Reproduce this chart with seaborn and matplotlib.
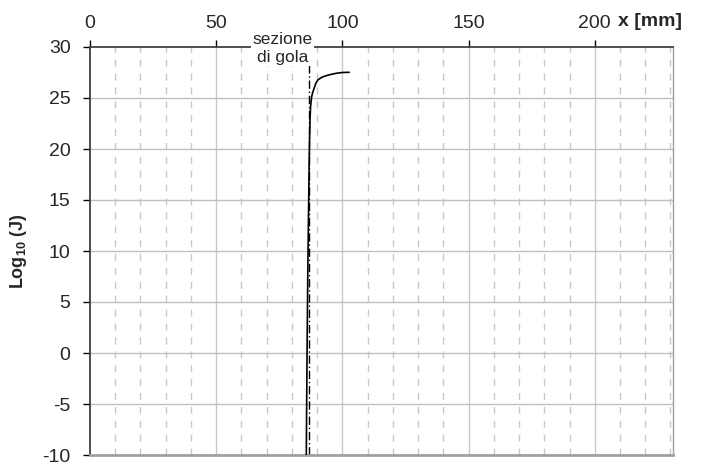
import matplotlib
matplotlib.use("Agg")
import matplotlib.pyplot as plt
import seaborn as sns
import pandas as pd

sns.set_style("white")
plt.rcParams['font.family'] = ['Liberation Sans', 'DejaVu Sans']
plt.rcParams['axes.unicode_minus'] = False
plt.rcParams['mathtext.fontset'] = 'custom'
plt.rcParams['mathtext.rm'] = 'Liberation Sans:bold'
plt.rcParams['mathtext.bf'] = 'Liberation Sans:bold'

# data
x_mm = [85.7, 86.0, 86.3, 86.5, 86.8, 87.0, 87.2, 87.4, 87.8, 88.3, 88.8, 89.5, 90.4, 92.0, 94.4, 97.5, 100.0, 102.7]
log_j = [-10.0, 0.0, 8.0, 12.0, 18.0, 21.0, 23.0, 24.15, 25.1, 25.6, 25.95, 26.45, 26.8, 27.05, 27.25, 27.42, 27.5, 27.52]
throat_x = 86.8
x_ticks = [0, 50, 100, 150, 200]
y_ticks = [-10, -5, 0, 5, 10, 15, 20, 25, 30]

df = pd.DataFrame({"x": x_mm, "y": log_j})

fig = plt.figure(figsize=(7.03, 4.65), dpi=100)
ax = fig.add_axes([90/703, 10/465, (673-90)/703, (455-47)/465])

ax.set_xlim(0, 231)
ax.set_ylim(-10, 30)

ax.set_xticks(x_ticks)
ax.set_yticks(y_ticks)
ax.grid(False)
for v in range(10, 231, 10):
    if v % 50 == 0:
        ax.axvline(v, color='#c8c8c8', lw=1.0, zorder=0)
    else:
        ax.axvline(v, color='#c8c8c8', lw=1.0, ls=(0, (5, 5)), zorder=0)
for v in y_ticks[1:-1]:
    ax.axhline(v, color='#c0c0c0', lw=1.0, zorder=0)

sns.lineplot(data=df, x="x", y="y", ax=ax, color='black', lw=1.2, sort=False, estimator=None, zorder=3)
ax.axvline(throat_x, color='black', lw=1.0, ls=(0, (6, 2, 1, 2)), zorder=2)

ax.xaxis.tick_top()
ax.xaxis.set_label_position('top')
ax.tick_params(axis='x', which='major', top=True, bottom=False, direction='out', length=5, width=1, labelsize=14, color='black', pad=6)
ax.tick_params(axis='x', which='minor', top=False, bottom=False)
ax.tick_params(axis='y', direction='out', length=5, width=1, labelsize=14, left=True, color='black', pad=9)
ax.set_xlabel("")
ax.set_ylabel("Log$_{10}$ (J)", fontsize=13, fontweight='bold')
ax.yaxis.set_label_coords(-0.105, 0.5)

for s in ['top', 'left']:
    ax.spines[s].set_color('#404040')
    ax.spines[s].set_linewidth(1.3)
ax.spines['bottom'].set_color('#a0a0a0')
ax.spines['bottom'].set_linewidth(2.0)
ax.spines['right'].set_color('#a0a0a0')
ax.spines['right'].set_linewidth(1.0)

fig.text(618/703, 1 - 21/465, "x [mm]", fontsize=14, fontweight='bold', ha='left', va='center')
ax.text(76.4, 29.9, "sezione\ndi gola", fontsize=12.5, ha='center', va='center', linespacing=1.25,
        bbox=dict(facecolor='white', edgecolor='none', pad=1), zorder=5)

fig.savefig("out.png", dpi=100)
